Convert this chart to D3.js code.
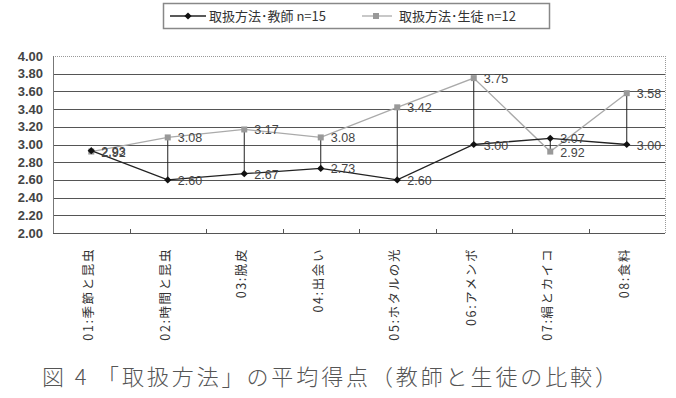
<!DOCTYPE html>
<html>
<head>
<meta charset="utf-8">
<script src="https://cdn.jsdelivr.net/npm/d3@7"></script>
<style>
body { margin: 0; background: #fff; }
svg { display: block; }
</style>
</head>
<body>
<svg id="chart" width="676" height="398"></svg>
<script>
// categories and series
var categories = ["01:季節と昆虫", "02:時間と昆虫", "03:脱皮", "04:出会い", "05:ホタルの光", "06:アメンボ", "07:絹とカイコ", "08:食料"];
var teacher = [2.93, 2.60, 2.67, 2.73, 2.60, 3.00, 3.07, 3.00];
var student = [2.92, 3.08, 3.17, 3.08, 3.42, 3.75, 2.92, 3.58];
var seriesNames = ["取扱方法･教師 n=15", "取扱方法･生徒 n=12"];
var yTicks = [2.0, 2.2, 2.4, 2.6, 2.8, 3.0, 3.2, 3.4, 3.6, 3.8, 4.0];
var caption = "図 4 「取扱方法」の平均得点（教師と生徒の比較）";

var svg = d3.select("#chart");
var pLeft = 53, pRight = 665, pTop = 56, pBottom = 233;
var font = "Liberation Sans, Arial, sans-serif";
var cjk = "'Noto Sans CJK JP', sans-serif";

var x = d3.scaleBand().domain(categories).range([pLeft, pRight]);
var y = d3.scaleLinear().domain([2, 4]).range([pBottom, pTop]);
var cx = d => x(d) + x.bandwidth() / 2;

// grid lines
svg.append("g").selectAll("line")
    .data(yTicks.slice(1, -1))
    .enter().append("line")
    .attr("x1", pLeft).attr("x2", pRight)
    .attr("y1", d => Math.round(y(d)) + 0.5).attr("y2", d => Math.round(y(d)) + 0.5)
    .attr("stroke", "#555").attr("stroke-width", 1.2);

// plot border
svg.append("line").attr("x1", pLeft).attr("x2", pRight).attr("y1", pTop + 0.5).attr("y2", pTop + 0.5)
    .attr("stroke", "#999").attr("stroke-dasharray", "1,1");
svg.append("line").attr("x1", pRight + 0.5).attr("x2", pRight + 0.5).attr("y1", pTop).attr("y2", pBottom)
    .attr("stroke", "#999").attr("stroke-dasharray", "1,1");
svg.append("line").attr("x1", pLeft + 0.5).attr("x2", pLeft + 0.5).attr("y1", pTop).attr("y2", pBottom)
    .attr("stroke", "#777");
svg.append("line").attr("x1", pLeft).attr("x2", pRight).attr("y1", pBottom + 0.5).attr("y2", pBottom + 0.5)
    .attr("stroke", "#555").attr("stroke-width", 1.2);

// x tick marks between categories
svg.append("g").selectAll("line")
    .data(categories.slice(1))
    .enter().append("line")
    .attr("x1", d => Math.round(x(d)) + 0.5).attr("x2", d => Math.round(x(d)) + 0.5)
    .attr("y1", pBottom).attr("y2", pBottom - 4)
    .attr("stroke", "#555");

// y axis labels
svg.append("g").selectAll("text")
    .data(yTicks)
    .enter().append("text")
    .attr("x", 43).attr("y", d => y(d) + 4.5)
    .attr("text-anchor", "end")
    .attr("font-family", font).attr("font-size", 13).attr("font-weight", "bold")
    .attr("fill", "#444")
    .text(d => d.toFixed(2));

// category labels, rotated
svg.append("g").selectAll("text")
    .data(categories)
    .enter().append("text")
    .attr("transform", d => "translate(" + (cx(d) + 2) + ",248) rotate(-90)")
    .attr("text-anchor", "end")
    .attr("font-family", cjk).attr("font-size", 12.5)
    .attr("letter-spacing", 1.6)
    .attr("fill", "#333")
    .text(d => d);

// high-low lines
svg.append("g").selectAll("line")
    .data(categories)
    .enter().append("line")
    .attr("x1", d => cx(d)).attr("x2", d => cx(d))
    .attr("y1", (d, i) => y(teacher[i])).attr("y2", (d, i) => y(student[i]))
    .attr("stroke", "#222").attr("stroke-width", 1);

var line = d3.line().x((d, i) => cx(categories[i])).y(d => y(d));

// student series
svg.append("path").datum(student).attr("d", line)
    .attr("fill", "none").attr("stroke", "#aaa").attr("stroke-width", 1.3);
svg.append("g").selectAll("rect")
    .data(student).enter().append("rect")
    .attr("x", (d, i) => cx(categories[i]) - 3).attr("y", d => y(d) - 3)
    .attr("width", 6).attr("height", 6).attr("fill", "#999");

// teacher series
svg.append("path").datum(teacher).attr("d", line)
    .attr("fill", "none").attr("stroke", "#222").attr("stroke-width", 1.3);
var diamond = d3.symbol().type(d3.symbolSquare).size(26);
svg.append("g").selectAll("path")
    .data(teacher).enter().append("path")
    .attr("d", diamond)
    .attr("transform", (d, i) => "translate(" + cx(categories[i]) + "," + y(d) + ") rotate(45)")
    .attr("fill", "#111");

// data labels
function labels(data) {
    svg.append("g").selectAll("text")
        .data(data).enter().append("text")
        .attr("x", (d, i) => cx(categories[i]) + 10)
        .attr("y", d => y(d) + 5)
        .attr("font-family", font).attr("font-size", 12.5)
        .attr("fill", "#444")
        .text(d => d.toFixed(2));
}
labels(student);
labels(teacher);

// legend
svg.append("rect").attr("x", 163.5).attr("y", 3.5).attr("width", 386).attr("height", 25)
    .attr("fill", "#fff").attr("stroke", "#888").attr("stroke-width", 1.5);
var lg = svg.append("g");
lg.append("line").attr("x1", 170).attr("x2", 206).attr("y1", 16).attr("y2", 16).attr("stroke", "#222").attr("stroke-width", 1.3);
lg.append("path").attr("d", diamond).attr("transform", "translate(188,16) rotate(45)").attr("fill", "#111");
lg.append("text").attr("x", 209).attr("y", 21).attr("font-family", cjk).attr("font-size", 13).attr("fill", "#333").text(seriesNames[0]);
lg.append("line").attr("x1", 362).attr("x2", 392).attr("y1", 16).attr("y2", 16).attr("stroke", "#aaa").attr("stroke-width", 1.3);
lg.append("rect").attr("x", 373).attr("y", 13).attr("width", 6).attr("height", 6).attr("fill", "#999");
lg.append("text").attr("x", 399).attr("y", 21).attr("font-family", cjk).attr("font-size", 13).attr("fill", "#333").text(seriesNames[1]);

// caption
svg.append("text").attr("x", 42).attr("y", 385)
    .attr("textLength", 575).attr("lengthAdjust", "spacing")
    .attr("font-family", cjk).attr("font-size", 22).attr("font-weight", 300).attr("fill", "#555")
    .text(caption);
</script>
</body>
</html>
